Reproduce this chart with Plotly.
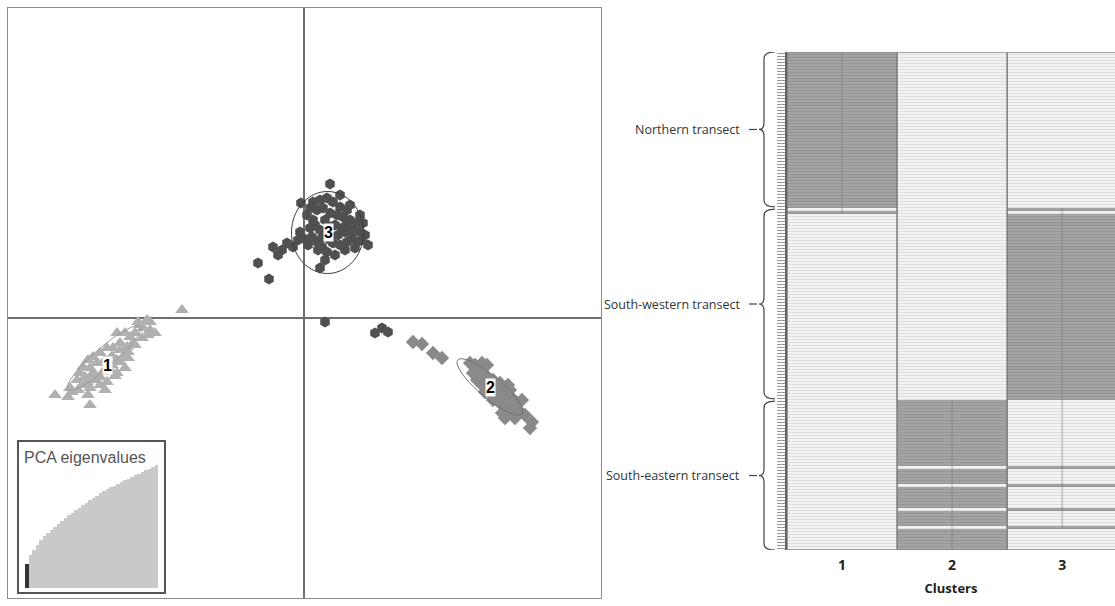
import numpy as np
import plotly.graph_objects as go

W, H = 1115, 606

# ---------------- PCA scores (arbitrary PC units) -------------
c1_pc1 = [-1.66, -1.57, -1.61, -1.54, -1.49, -1.69, -1.74, -1.79, -1.87, -1.71, -1.77, -1.84,
          -1.91, -1.97, -2.04, -2.11, -2.16, -2.21, -2.14, -2.07, -1.87, -1.81, -1.94, -1.87,
          -2.04, -2.11, -2.24, -2.27, -2.17, -1.97, -2.04, -2.14, -2.26, -2.32, -2.36, -2.49,
          -2.14, -1.76, -1.22, -1.99, -1.92, -2.09, -2.19, -1.84, -1.64,
          -2.34, -2.22, -2.09, -2.01, -1.92, -1.84, -1.76, -1.69, -1.62, -1.56, -1.89, -1.99,
          -1.79, -2.16, -1.54]
c1_pc2 = [-0.04, -0.02, -0.10, -0.12, -0.15, -0.15, -0.19, -0.15, -0.15, -0.25, -0.29, -0.25,
          -0.30, -0.30, -0.35, -0.39, -0.42, -0.49, -0.50, -0.45, -0.42, -0.39, -0.52, -0.55,
          -0.59, -0.55, -0.55, -0.62, -0.64, -0.64, -0.67, -0.70, -0.72, -0.74, -0.79, -0.77,
          -0.87, -0.40, 0.08, -0.42, -0.38, -0.57, -0.59, -0.32, -0.07,
          -0.70, -0.67, -0.62, -0.54, -0.47, -0.44, -0.34, -0.27, -0.20, -0.17, -0.58, -0.72,
          -0.50, -0.77, -0.04]

c2_pc1 = [1.71, 1.78, 1.83, 1.74, 1.69, 1.79, 1.73, 1.78, 1.89, 1.96, 2.04, 1.93, 1.99, 2.08,
          1.86, 1.89, 1.96, 2.03, 2.13, 2.14, 2.06, 1.98, 2.01, 2.18, 1.83, 2.28, 2.26, 1.09,
          1.18, 1.29, 1.38, 1.66,
          1.76, 1.84, 1.91, 2.01, 2.08, 2.16, 1.81, 1.94, 2.06, 2.21, 2.11]
c2_pc2 = [-0.47, -0.45, -0.47, -0.52, -0.55, -0.55, -0.62, -0.67, -0.62, -0.65, -0.67, -0.72,
          -0.75, -0.80, -0.75, -0.82, -0.85, -0.89, -0.85, -0.92, -0.94, -0.95, -1.00, -0.82,
          -0.69, -1.04, -1.10, -0.24, -0.26, -0.35, -0.40, -0.45,
          -0.57, -0.60, -0.70, -0.77, -0.87, -0.94, -0.74, -0.80, -0.72, -0.97, -1.00]

c3_pc1 = [0.26, -0.03, 0.09, 0.16, 0.23, 0.29, 0.36, 0.43, 0.13, 0.19, 0.26, 0.33, 0.39, 0.46,
          0.53, 0.59, 0.61, 0.56, 0.49, 0.09, 0.06, -0.04, -0.01, 0.08, 0.13, 0.18, 0.23, 0.29,
          0.36, 0.43, 0.48, 0.53, 0.34, 0.41, 0.16, 0.43, 0.16, -0.17, -0.22, -0.11, 0.26,
          -0.46, -0.35, -0.31, -0.26, 0.21, 0.71, 0.78, 0.84,
          0.03, 0.11, 0.21, 0.31, 0.38, 0.46, 0.51, 0.41, 0.31, 0.21, 0.14, 0.04, -0.06, 0.58,
          0.64, 0.36, 0.46, 0.56, 0.06, 0.18, 0.26]
c3_pc2 = [1.34, 1.15, 1.16, 1.18, 1.20, 1.16, 1.11, 1.08, 1.08, 1.10, 1.05, 1.03, 1.01, 0.98,
          0.95, 0.95, 0.83, 0.86, 0.88, 0.98, 0.90, 0.86, 0.80, 0.81, 0.76, 0.71, 0.66, 0.75,
          0.73, 0.76, 0.80, 0.76, 0.83, 0.86, 0.88, 0.95, 0.50, 0.75, 0.68, 0.71, 0.91,
          0.55, 0.39, 0.71, 0.63, -0.04, -0.15, -0.10, -0.14,
          1.03, 0.93, 0.98, 0.93, 0.90, 0.86, 0.70, 0.68, 0.63, 0.58, 0.68, 0.73, 0.78, 0.78,
          0.73, 1.23, 1.13, 1.03, 1.10, 0.80, 0.78]

cluster_labels = ["1", "2", "3"]

# eigenvalue inset bars
eigenvalues = [24, 33, 38, 43, 48, 52, 55, 58, 61, 64, 67, 70, 73, 75, 78, 80, 83, 85, 88, 90,
               92, 95, 97, 99, 101, 102, 104, 106, 108, 109, 111, 113, 114, 116, 118, 119, 121,
               123]
n_retained = 1

# ---------------- assignment table (rows = individuals) ----------------
clusters = [1, 2, 3]
cluster_ticks = ["1", "2", "3"]
pop_names = ["Northern transect", "South-western transect", "South-eastern transect"]
northern_assign = [1] * 52
southwest_assign = [3, 1] + [3] * 62
southeast_assign = [2] * 22 + [3] + [2] * 5 + [3] + [2] * 7 + [3] + [2] * 5 + [3] + [2] * 7
pop_assign = [northern_assign, southwest_assign, southeast_assign]

rows = northern_assign + southwest_assign + southeast_assign
nrow = len(rows)
z = [[1 if a == c else 0 for c in clusters] for a in rows]

fig = go.Figure()

# ---------------- left PCA panel ----------------
fig.add_trace(go.Scatter(x=c1_pc1, y=c1_pc2, mode="markers", xaxis="x", yaxis="y",
                         marker=dict(symbol="triangle-up", size=12, color="#b0b0b0"),
                         showlegend=False, hoverinfo="skip"))
fig.add_trace(go.Scatter(x=c2_pc1, y=c2_pc2, mode="markers", xaxis="x", yaxis="y",
                         marker=dict(symbol="diamond", size=11, color="#8a8a8a"),
                         showlegend=False, hoverinfo="skip"))
fig.add_trace(go.Scatter(x=c3_pc1, y=c3_pc2, mode="markers", xaxis="x", yaxis="y",
                         marker=dict(symbol="hexagon", size=11, color="#505050"),
                         showlegend=False, hoverinfo="skip"))

# inset eigenvalues
fig.add_trace(go.Bar(x=list(range(len(eigenvalues))), y=eigenvalues, xaxis="x3", yaxis="y3",
                     marker=dict(color=["#333333" if i < n_retained else "#c9c9c9"
                                        for i in range(len(eigenvalues))], line=dict(width=0)),
                     showlegend=False, hoverinfo="skip"))

# ---------------- right assignment panel ----------------
fig.add_trace(go.Heatmap(z=z, x=clusters, y=list(range(nrow)), xaxis="x2", yaxis="y2",
                         colorscale=[[0, "#f3f3f3"], [1, "#a4a4a4"]], zmin=0, zmax=1,
                         showscale=False, ygap=1, hoverinfo="skip"))

shapes = []
annotations = []

# ellipses (geometry)
def ellipse_path(cx, cy, a, b, ang_deg, n=72):
    t = np.linspace(0, 2 * np.pi, n)
    th = np.deg2rad(ang_deg)
    xs = cx + a * np.cos(t) * np.cos(th) - b * np.sin(t) * np.sin(th)
    ys = cy + a * np.cos(t) * np.sin(th) + b * np.sin(t) * np.cos(th)
    return "M " + " L ".join(f"{x:.4f},{y:.4f}" for x, y in zip(xs, ys)) + " Z"

ellipses = [(-2.00, -0.40, 0.48, 0.10, 41, "#9a9a9a"),
            (1.86, -0.69, 0.42, 0.11, -40, "#707070"),
            (0.235, 0.855, 0.36, 0.41, 0, "#3c3c3c")]
for cx, cy, a, b, ang, col in ellipses:
    shapes.append(dict(type="path", xref="x", yref="y", path=ellipse_path(cx, cy, a, b, ang),
                       line=dict(color=col, width=1)))

label_pos = [(-1.97, -0.47), (1.86, -0.69), (0.24, 0.86)]
for lab, (lx, ly) in zip(cluster_labels, label_pos):
    annotations.append(dict(x=lx, y=ly, xref="x", yref="y", text=f"<b>{lab}</b>", showarrow=False,
                            font=dict(family="Liberation Sans", size=16, color="black"),
                            bgcolor="white", borderpad=0))

annotations.append(dict(x=22 / W, y=1 - 457 / H, xref="paper", yref="paper", xanchor="left",
                        yanchor="middle", text="PCA eigenvalues", showarrow=False,
                        font=dict(family="Liberation Sans", size=16, color="#555555")))

# row-gap backgrounds per contiguous run in each column
for ci, c in enumerate(clusters):
    i = 0
    while i < nrow:
        v = z[i][ci]
        j = i
        while j + 1 < nrow and z[j + 1][ci] == v:
            j += 1
        shapes.append(dict(type="rect", xref="x2", yref="y2", x0=c - 0.5, x1=c + 0.5,
                           y0=i - 0.5, y1=j + 0.5, fillcolor="#959595" if v else "#dedede",
                           line=dict(width=0), layer="below"))
        i = j + 1
# column borders
for xb in [0.5, 1.5, 2.5, 3.5]:
    shapes.append(dict(type="line", xref="x2", yref="y2", x0=xb, x1=xb, y0=-0.5, y1=nrow - 0.5,
                       line=dict(color="#7a7a7a", width=1.5)))
for yb in [-0.5, nrow - 0.5]:
    shapes.append(dict(type="line", xref="x2", yref="y2", x0=0.5, x1=3.5, y0=yb, y1=yb,
                       line=dict(color="#8a8a8a", width=1.5)))
# faint centre lines in member columns
for c in clusters:
    idx = [i for i, a in enumerate(rows) if a == c]
    shapes.append(dict(type="line", xref="x2", yref="y2", x0=c, x1=c, y0=min(idx) - 0.5,
                       y1=max(idx) + 0.5, line=dict(color="rgba(120,120,120,0.3)", width=2)))

# braces + population labels
xt, xs_, xn = 775 / W, 764 / W, 759 / W
start = 0
for name, grp in zip(pop_names, pop_assign):
    r0 = start - 0.5 + (0.35 if start > 0 else 0)
    end = start + len(grp)
    r1 = end - 0.5 - (0.35 if end < nrow else 0)
    ym = (r0 + r1) / 2
    rr = 2.2
    path = (f"M {xt},{r0} Q {xs_},{r0} {xs_},{r0 + rr} L {xs_},{ym - rr} "
            f"Q {xs_},{ym} {xn},{ym} Q {xs_},{ym} {xs_},{ym + rr} "
            f"L {xs_},{r1 - rr} Q {xs_},{r1} {xt},{r1}")
    shapes.append(dict(type="path", xref="paper", yref="y2", path=path,
                       line=dict(color="#444444", width=1.2)))
    shapes.append(dict(type="line", xref="paper", yref="y2", x0=749 / W, x1=757 / W, y0=ym, y1=ym,
                       line=dict(color="#444444", width=1.2)))
    annotations.append(dict(x=742 / W, y=ym, xref="paper", yref="y2", xanchor="right",
                            yanchor="middle", text=name, showarrow=False,
                            font=dict(family="Open Sans", size=12.5, color="#333333")))
    start = end

fig.update_layout(
    width=W, height=H, margin=dict(l=0, r=0, t=0, b=0),
    paper_bgcolor="white", plot_bgcolor="white", bargap=0,
    shapes=shapes, annotations=annotations,
    xaxis=dict(domain=[8 / W, 601 / W], range=[-2.96, 2.97], showticklabels=False, ticks="",
               showgrid=False, zeroline=True, zerolinecolor="#6e6e6e", zerolinewidth=1.5,
               showline=True, mirror=True, linecolor="#8c8c8c", linewidth=1),
    yaxis=dict(domain=[1 - 598 / H, 1 - 8 / H], range=[-2.80, 3.10], showticklabels=False,
               ticks="", showgrid=False, zeroline=True, zerolinecolor="#6e6e6e",
               zerolinewidth=1.5, showline=True, mirror=True, linecolor="#8c8c8c", linewidth=1),
    xaxis3=dict(domain=[19 / W, 164 / W], range=[-2.214, 39.214], showticklabels=False,
                ticks="", showgrid=False, zeroline=False, showline=True, mirror=True,
                linecolor="#555555", linewidth=1.5, anchor="y3"),
    yaxis3=dict(domain=[1 - 592 / H, 1 - 442 / H], range=[-4, 146], showticklabels=False,
                ticks="", showgrid=False, zeroline=False, showline=True, mirror=True,
                linecolor="#555555", linewidth=1.5, anchor="x3"),
    xaxis2=dict(domain=[787 / W, 1.0], range=[0.5, 3.48], tickvals=clusters,
                ticktext=[f"<b>{t}</b>" for t in cluster_ticks], ticks="", showgrid=False,
                zeroline=False, anchor="y2", ticklabelstandoff=5,
                tickfont=dict(family="Open Sans", size=14, color="#222222"),
                title=dict(text="<b>Clusters</b>", standoff=10,
                           font=dict(family="Open Sans", size=13, color="#222222"))),
    yaxis2=dict(domain=[1 - 550 / H, 1 - 52 / H], range=[nrow - 0.5, -0.5], tickmode="linear",
                tick0=0, dtick=1, ticks="outside", ticklen=8, tickwidth=1, tickcolor="#9a9a9a",
                showticklabels=False, showgrid=False, zeroline=False, showline=True,
                linecolor="#666666", linewidth=1.5, anchor="x2"),
)

fig.write_html("out.html", config={"displayModeBar": False},
               post_script="document.body.style.margin='0';")
